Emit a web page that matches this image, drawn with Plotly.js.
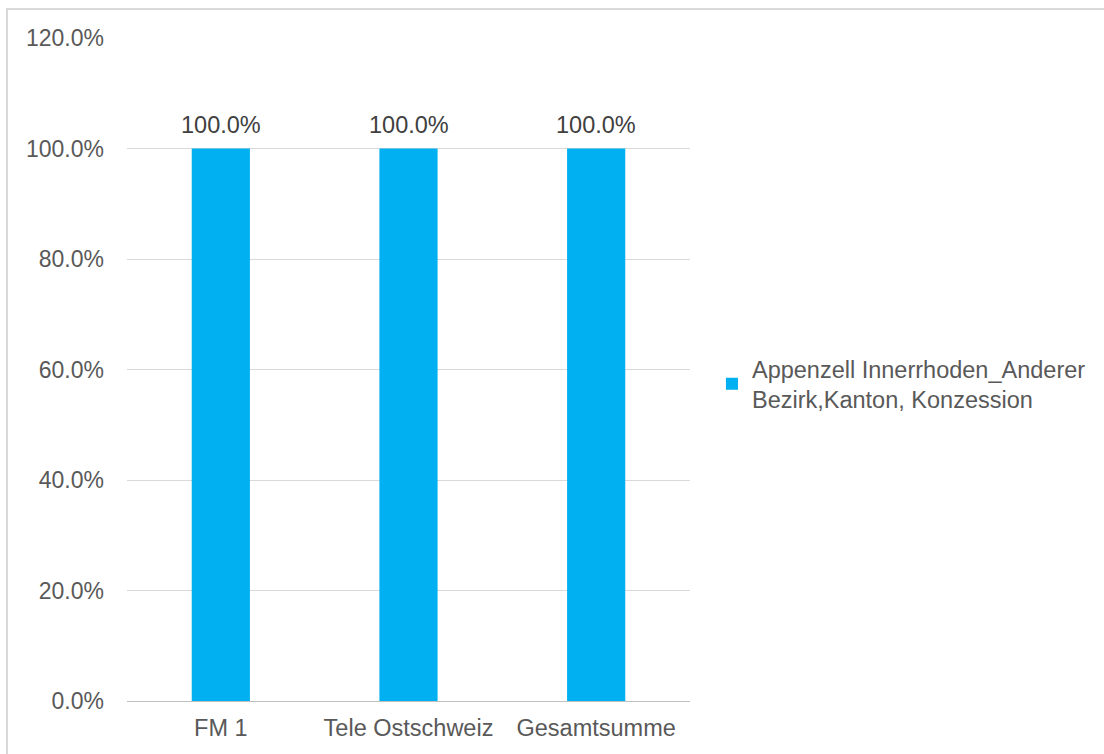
<!DOCTYPE html>
<html>
<head>
<meta charset="utf-8">
<script src="https://cdn.plot.ly/plotly-3.0.1.min.js"></script>
<style>
  html, body { margin: 0; padding: 0; background: #ffffff; }
  #chart { width: 1104px; height: 754px; }
  #frame { position: absolute; left: 6px; top: 8px; width: 1120px; height: 770px;
           border: 2px solid #d9d9d9; box-sizing: border-box; pointer-events: none; }
</style>
</head>
<body>
<div id="chart"></div>
<div id="frame"></div>
<script>
const categories = ["FM 1", "Tele Ostschweiz", "Gesamtsumme"];
const seriesName = "Appenzell Innerrhoden_Anderer<br>Bezirk,Kanton, Konzession";
const values = [1.0, 1.0, 1.0];
const yTickValues = [0, 0.2, 0.4, 0.6, 0.8, 1.0, 1.2];

const FONT = "Liberation Sans, Arial, sans-serif";

const trace = {
  type: "bar",
  x: categories,
  y: values,
  name: seriesName,
  marker: { color: "#00b0f0" },
  hoverinfo: "none"
};

const labels = categories.map((c, i) => ({
  x: c,
  y: values[i],
  xref: "x",
  yref: "y",
  text: (values[i] * 100).toFixed(1) + "%",
  showarrow: false,
  yanchor: "bottom",
  yshift: 9,
  font: { family: FONT, size: 23.5, color: "#404040" }
}));

const layout = {
  width: 1104,
  height: 754,
  margin: { l: 127, r: 414, t: 38, b: 53 },
  paper_bgcolor: "#ffffff",
  plot_bgcolor: "#ffffff",
  font: { family: FONT, size: 23.5, color: "#595959" },
  bargap: 0.69,
  showlegend: true,
  legend: {
    x: 1.039, xanchor: "left",
    y: 0.478, yanchor: "middle",
    font: { size: 23.5, color: "#595959" },
    bgcolor: "rgba(0,0,0,0)",
    itemclick: false
  },
  annotations: labels,
  xaxis: {
    type: "category",
    showgrid: false,
    showline: true,
    linecolor: "#bfbfbf",
    linewidth: 1,
    ticks: "",
    ticklabelstandoff: 6,
    tickfont: { size: 23.5, color: "#595959" }
  },
  yaxis: {
    range: [0, 1.2],
    tickvals: yTickValues,
    tickformat: ".1%",
    showgrid: true,
    gridcolor: "#d9d9d9",
    gridwidth: 1,
    zeroline: false,
    showline: false,
    ticks: "",
    ticklabelstandoff: 22,
    tickfont: { size: 23, color: "#595959" }
  }
};

Plotly.newPlot("chart", [trace], layout, { staticPlot: true, displayModeBar: false });
</script>
</body>
</html>
